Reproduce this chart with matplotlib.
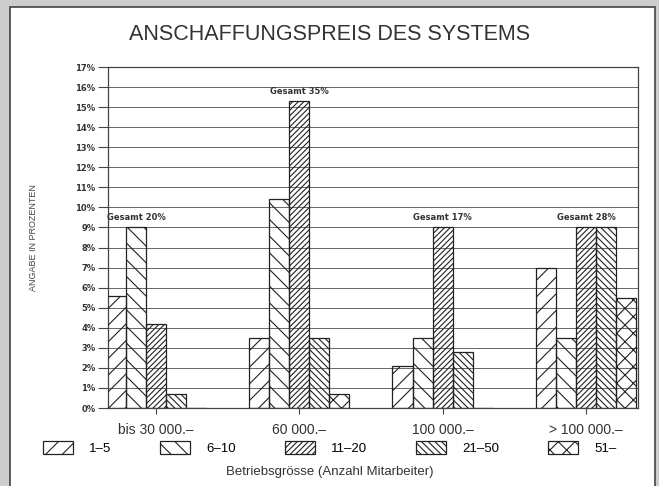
import matplotlib.pyplot as plt
import matplotlib.patches as mpatches
import numpy as np

plt.rcParams['font.family'] = ['Liberation Sans', 'DejaVu Sans']
plt.rcParams['hatch.linewidth'] = 0.8

# price classes (x axis)
categories = ["bis 30 000.\u2013", "60 000.\u2013", "100 000.\u2013", "> 100 000.\u2013"]
# company size classes (series)
series = ["1\u20135", "6\u201310", "11\u201320", "21\u201350", "51\u2013"]
values = [
    [5.6, 3.5, 2.1, 7.0],   # 1-5
    [9.0, 10.4, 3.5, 3.5],  # 6-10
    [4.2, 15.3, 9.0, 9.0],  # 11-20
    [0.7, 3.5, 2.8, 9.0],   # 21-50
    [0.0, 0.7, 0.0, 5.5],   # 51-
]
totals = ["Gesamt 20%", "Gesamt 35%", "Gesamt 17%", "Gesamt 28%"]
hatches = ["//", "\\\\", "//////", "\\\\\\\\\\", "xx"]

fig = plt.figure(figsize=(6.59, 4.86), dpi=100)
fig.patch.set_facecolor("#cdcdcd")
# white sheet with a thin frame
fig.patches.append(mpatches.Rectangle((10 / 659, -0.05), 645 / 659, 1.05 - 7 / 486,
                                      transform=fig.transFigure, facecolor="white",
                                      edgecolor="#444444", linewidth=1.2, zorder=-5))

ax = fig.add_axes([108 / 659, 1 - 408 / 486, 530 / 659, 341 / 486])
ax.set_facecolor("none")

x = np.arange(len(categories))
w = 0.14
n = len(series)
for i, (name, vals) in enumerate(zip(series, values)):
    pos = x + (i - (n - 1) / 2) * w
    ax.bar(pos, vals, width=w, facecolor="none", edgecolor="#222222",
           hatch=hatches[i], linewidth=0.9, label=name, zorder=3)

# "Gesamt" labels above the tallest bar of each group
vals_arr = np.array(values)
for j, t in enumerate(totals):
    k = int(np.argmax(vals_arr[:, j]))
    xpos = x[j] + (k - (n - 1) / 2) * w
    ax.text(xpos, vals_arr[k, j] + 0.25, t, ha="center", va="bottom",
            fontsize=6, fontweight="bold", color="#333333", family="DejaVu Sans")

ax.set_xlim(-0.335, 3.363)
ax.set_ylim(0, 17)
ax.set_yticks(range(0, 18))
ax.set_yticklabels([f"{v}%" for v in range(0, 18)], fontsize=6, fontweight="bold",
                   color="#333333", family="DejaVu Sans")
ax.set_xticks(x)
ax.set_xticklabels(categories, fontsize=10, color="#333333")
ax.tick_params(axis="y", length=7, width=0.8, color="#444444", pad=2)
ax.tick_params(axis="x", length=4, width=0.8, color="#444444", pad=7)
ax.grid(axis="y", color="#666666", linewidth=0.7, zorder=1)
for s in ax.spines.values():
    s.set_color("#444444")
    s.set_linewidth(0.9)

ax.set_ylabel("ANGABE IN PROZENTEN", fontsize=6.5, color="#444444", labelpad=27)

fig.text(0.5, 1 - 35 / 486, "ANSCHAFFUNGSPREIS DES SYSTEMS", ha="center", va="center",
         fontsize=15.5, color="#333333")

handles = [mpatches.Patch(facecolor="white", edgecolor="#222222", hatch=h, linewidth=0.9)
           for h in hatches]
fig.legend(handles, series, loc="center", bbox_to_anchor=(0.5, 1 - 448 / 486), ncol=5,
           frameon=False, fontsize=9.5, handlelength=2.3, handleheight=1.1,
           columnspacing=3.7, handletextpad=1.2)

fig.text(0.5, 1 - 472 / 486, "Betriebsgr\u00f6sse (Anzahl Mitarbeiter)", ha="center",
         va="center", fontsize=9.5, color="#333333")

fig.savefig("out.png", dpi=100, facecolor=fig.get_facecolor())
